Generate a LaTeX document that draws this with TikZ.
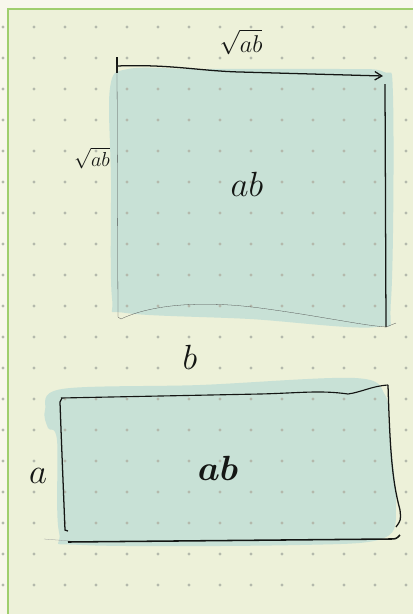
\documentclass[tikz,border=0pt]{standalone}
\usepackage{amsmath}
\usetikzlibrary{arrows.meta}
\definecolor{margin}{RGB}{248,247,236}
\definecolor{paper}{RGB}{237,241,217}
\definecolor{edge}{RGB}{160,206,110}
\definecolor{blob}{RGB}{200,225,214}
\definecolor{dotc}{RGB}{180,185,172}
\definecolor{ink}{RGB}{20,22,20}

\begin{document}
\begin{tikzpicture}[x=0.025cm,y=-0.025cm]
          \useasboundingbox (0,0) rectangle (413,614);
          \fill[margin] (0,0) rectangle (413,614);
          \fill[paper] (8,9) rectangle (413,614);
          \draw[line width=1pt,edge] (8,614) -- (8,9) -- (413,9);
          % teal patches
          \fill[blob] plot[smooth cycle,tension=0.55] coordinates {(110,88)
            (128,69) (200,69) (340,69) (384,72) (393,96) (391,300) (376,327)
            (250,319) (126,313) (112,298) (111,180)};
          \fill[blob] plot[smooth cycle,tension=0.55] coordinates {(45,410)
            (62,389) (200,385) (355,378) (385,395) (389,430) (396,505)
            (384,538) (300,545) (82,545) (59,532) (57,440) (48,428)};
          % dot grid
          \foreach \x in {0,...,13} \foreach \y in {0,...,18}
          \fill[dotc] (3+31*\x,27+31*\y) circle (1.1pt);
          % square
          \draw[line width=1.6pt,ink] (117,57) -- (117,73);
          \draw[line width=0.9pt,ink,-{Straight Barb[length=5pt,width=6pt]}] (117,66)
          .. controls (170,64) and (200,71) .. (240,72) -- (383,76);
          \draw[very thin,ink!75] (117,64) -- (118,317) -- (121,319)
          .. controls (150,305) and (200,300) .. (260,308)
          .. controls (320,316) and (360,325) .. (386,327) -- (396,323);
          \draw[line width=0.9pt,ink] (385,84) -- (386,327);
          % rectangle
          \draw[line width=0.8pt,ink] (61,398) -- (260,394)
          .. controls (300,393) and (320,390) .. (348,394)
          .. controls (362,392) and (372,386) .. (388,385);
          \draw[line width=0.9pt,ink] (62,398) -- (60,402)
          .. controls (61,430) .. (65,530) -- (68,531);
          \draw[very thin,ink!45] (44,539) -- (70,541);
          \draw[line width=1.1pt,ink] (68,542) -- (390,539) .. controls (396,539) .. (400,535);
          \draw[line width=0.9pt,ink] (388,385) .. controls (390,450) and (392,480)
          .. (400,510) .. controls (401,520) .. (396,527);
          % labels
          \node[ink] (sqtop) at (241,42) {\fontsize{16}{19}\selectfont$\sqrt{ab}$};
          \node[ink] (sqleft) at (92,158) {\fontsize{15}{18}\selectfont$\sqrt{ab}$};
          \node[ink] (abtop) at (247,184) {\fontsize{27}{30}\selectfont$ab$};
          \node[ink] (blabel) at (190,357) {\fontsize{32}{36}\selectfont$b$};
          \node[ink] (alabel) at (38,476) {\fontsize{32}{36}\selectfont$a$};
          \node[ink] (abbot) at (218,468) {\fontsize{33}{36}\selectfont$\boldsymbol{ab}$};
        \end{tikzpicture}
\end{document}
